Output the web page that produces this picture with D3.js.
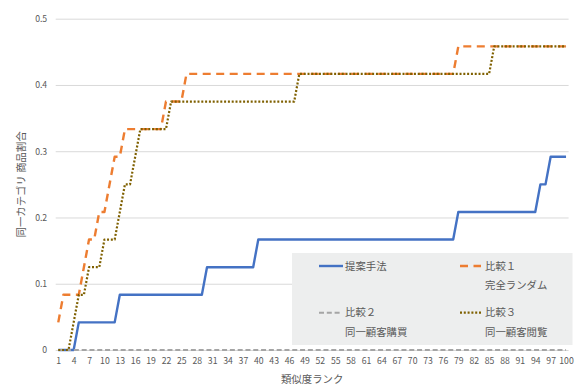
<!DOCTYPE html>
<html>
<head>
<meta charset="utf-8">
<script src="https://cdn.jsdelivr.net/npm/d3@7"></script>
<style>
  html, body { margin: 0; padding: 0; background: #fff; }
  svg { display: block; }
  text { font-family: "Noto Sans CJK JP", "Noto Sans", sans-serif; fill: #595959; }
</style>
</head>
<body>
<svg id="chart" width="579" height="385"></svg>
<script>
// Similarity rank categories (x axis)
const ranks = [
  1,2,3,4,5,6,7,8,9,10,11,12,13,14,15,16,17,18,19,20,
  21,22,23,24,25,26,27,28,29,30,31,32,33,34,35,36,37,38,39,40,
  41,42,43,44,45,46,47,48,49,50,51,52,53,54,55,56,57,58,59,60,
  61,62,63,64,65,66,67,68,69,70,71,72,73,74,75,76,77,78,79,80,
  81,82,83,84,85,86,87,88,89,90,91,92,93,94,95,96,97,98,99,100
];

// Labelled ranks on the x axis
const xTickLabels = [1,4,7,10,13,16,19,22,25,28,31,34,37,40,43,46,49,52,55,58,61,64,67,70,73,76,79,82,85,88,91,94,97,100];

// y axis ticks
const yTickLabels = [0, 0.1, 0.2, 0.3, 0.4, 0.5];

// 提案手法
const proposed = [
  0,0,0,0,0.0417,0.0417,0.0417,0.0417,0.0417,0.0417,
  0.0417,0.0417,0.0833,0.0833,0.0833,0.0833,0.0833,0.0833,0.0833,0.0833,
  0.0833,0.0833,0.0833,0.0833,0.0833,0.0833,0.0833,0.0833,0.0833,0.125,
  0.125,0.125,0.125,0.125,0.125,0.125,0.125,0.125,0.125,0.1667,
  0.1667,0.1667,0.1667,0.1667,0.1667,0.1667,0.1667,0.1667,0.1667,0.1667,
  0.1667,0.1667,0.1667,0.1667,0.1667,0.1667,0.1667,0.1667,0.1667,0.1667,
  0.1667,0.1667,0.1667,0.1667,0.1667,0.1667,0.1667,0.1667,0.1667,0.1667,
  0.1667,0.1667,0.1667,0.1667,0.1667,0.1667,0.1667,0.1667,0.2083,0.2083,
  0.2083,0.2083,0.2083,0.2083,0.2083,0.2083,0.2083,0.2083,0.2083,0.2083,
  0.2083,0.2083,0.2083,0.2083,0.25,0.25,0.2917,0.2917,0.2917,0.2917
];

// 比較１ 完全ランダム
const randomBaseline = [
  0.0417,0.0833,0.0833,0.0833,0.0833,0.125,0.1667,0.1667,0.2083,0.2083,
  0.25,0.2917,0.2917,0.3333,0.3333,0.3333,0.3333,0.3333,0.3333,0.3333,
  0.3333,0.375,0.375,0.375,0.375,0.4167,0.4167,0.4167,0.4167,0.4167,
  0.4167,0.4167,0.4167,0.4167,0.4167,0.4167,0.4167,0.4167,0.4167,0.4167,
  0.4167,0.4167,0.4167,0.4167,0.4167,0.4167,0.4167,0.4167,0.4167,0.4167,
  0.4167,0.4167,0.4167,0.4167,0.4167,0.4167,0.4167,0.4167,0.4167,0.4167,
  0.4167,0.4167,0.4167,0.4167,0.4167,0.4167,0.4167,0.4167,0.4167,0.4167,
  0.4167,0.4167,0.4167,0.4167,0.4167,0.4167,0.4167,0.4167,0.4583,0.4583,
  0.4583,0.4583,0.4583,0.4583,0.4583,0.4583,0.4583,0.4583,0.4583,0.4583,
  0.4583,0.4583,0.4583,0.4583,0.4583,0.4583,0.4583,0.4583,0.4583,0.4583
];

// 比較２ 同一顧客購買
const samePurchase = [
  0,0,0,0,0,0,0,0,0,0, 0,0,0,0,0,0,0,0,0,0,
  0,0,0,0,0,0,0,0,0,0, 0,0,0,0,0,0,0,0,0,0,
  0,0,0,0,0,0,0,0,0,0, 0,0,0,0,0,0,0,0,0,0,
  0,0,0,0,0,0,0,0,0,0, 0,0,0,0,0,0,0,0,0,0,
  0,0,0,0,0,0,0,0,0,0, 0,0,0,0,0,0,0,0,0,0
];

// 比較３ 同一顧客閲覧
const sameBrowse = [
  0,0,0,0.0417,0.0833,0.0833,0.125,0.125,0.125,0.1667,
  0.1667,0.1667,0.2083,0.25,0.25,0.2917,0.3333,0.3333,0.3333,0.3333,
  0.3333,0.3333,0.375,0.375,0.375,0.375,0.375,0.375,0.375,0.375,
  0.375,0.375,0.375,0.375,0.375,0.375,0.375,0.375,0.375,0.375,
  0.375,0.375,0.375,0.375,0.375,0.375,0.375,0.4167,0.4167,0.4167,
  0.4167,0.4167,0.4167,0.4167,0.4167,0.4167,0.4167,0.4167,0.4167,0.4167,
  0.4167,0.4167,0.4167,0.4167,0.4167,0.4167,0.4167,0.4167,0.4167,0.4167,
  0.4167,0.4167,0.4167,0.4167,0.4167,0.4167,0.4167,0.4167,0.4167,0.4167,
  0.4167,0.4167,0.4167,0.4167,0.4167,0.4583,0.4583,0.4583,0.4583,0.4583,
  0.4583,0.4583,0.4583,0.4583,0.4583,0.4583,0.4583,0.4583,0.4583,0.4583
];

const seriesNames = ["提案手法", "比較１", "比較２", "比較３"];
const seriesSubNames = ["", "完全ランダム", "同一顧客購買", "同一顧客閲覧"];

const series = [
  { name: seriesNames[0], sub: seriesSubNames[0], values: proposed,       color: "#4472C4", width: 2.4, dash: null },
  { name: seriesNames[1], sub: seriesSubNames[1], values: randomBaseline, color: "#ED7D31", width: 2.4, dash: "8,5.5" },
  { name: seriesNames[2], sub: seriesSubNames[2], values: samePurchase,   color: "#A5A5A5", width: 2,   dash: "5,2.8" },
  { name: seriesNames[3], sub: seriesSubNames[3], values: sameBrowse,     color: "#7F6000", width: 2.2, dash: "2,1.8" }
];

const svg = d3.select("#chart");

const plot = { left: 55.7, right: 568.6, top: 18.7, bottom: 350 };

const x = d3.scalePoint()
  .domain(ranks)
  .range([plot.left, plot.right])
  .padding(0.5);

const y = d3.scaleLinear()
  .domain([0, 0.5])
  .range([plot.bottom, plot.top]);

// Horizontal gridlines
const grid = svg.append("g")
  .attr("transform", `translate(${plot.left},0)`)
  .call(d3.axisLeft(y).tickValues(yTickLabels).tickSize(-(plot.right - plot.left)).tickFormat(""));
grid.select(".domain").remove();
grid.selectAll(".tick line").attr("stroke", "#D9D9D9").attr("stroke-width", 1);

// y tick labels
const yAxis = svg.append("g")
  .attr("transform", `translate(${plot.left - 8.5},0)`)
  .call(d3.axisLeft(y).tickValues(yTickLabels).tickSize(0).tickPadding(0)
    .tickFormat(d => d === 0 ? "0" : d3.format(".1f")(d)));
yAxis.select(".domain").remove();
yAxis.selectAll("text")
  .style("font-size", "8.7px")
  .attr("fill", "#595959");

// x tick labels
const xAxis = svg.append("g")
  .attr("transform", `translate(0,${plot.bottom})`)
  .call(d3.axisBottom(x).tickValues(xTickLabels).tickSize(0).tickPadding(8));
xAxis.select(".domain").remove();
xAxis.selectAll("text")
  .style("font-size", "8.7px")
  .attr("fill", "#595959");

// Series lines
const line = d3.line()
  .x((d, i) => x(ranks[i]))
  .y(d => y(d));

series.forEach(s => {
  svg.append("path")
    .datum(s.values)
    .attr("fill", "none")
    .attr("stroke", s.color)
    .attr("stroke-width", s.width)
    .attr("stroke-dasharray", s.dash)
    .attr("stroke-linejoin", "round")
    .attr("d", line);
});

// Axis titles
svg.append("text")
  .attr("x", (plot.left + plot.right) / 2)
  .attr("y", 383)
  .attr("text-anchor", "middle")
  .style("font-size", "10.4px")
  .text("類似度ランク");

svg.append("text")
  .attr("transform", `translate(25.2,${(plot.top + plot.bottom) / 2}) rotate(-90)`)
  .attr("text-anchor", "middle")
  .style("font-size", "10.4px")
  .text("同一カテゴリ 商品割合");

// Legend
const legend = svg.append("g");
legend.append("rect")
  .attr("x", 292).attr("y", 253)
  .attr("width", 280.5).attr("height", 92)
  .attr("fill", "#EDEEEE");

const legendPos = [
  { sx: 319, ex: 343, tx: 345, ty: 266 },
  { sx: 460, ex: 481, tx: 485, ty: 266 },
  { sx: 319, ex: 342, tx: 345, ty: 312.7 },
  { sx: 460, ex: 481, tx: 485, ty: 312.7 }
];

series.forEach((s, i) => {
  const p = legendPos[i];
  legend.append("line")
    .attr("x1", p.sx).attr("x2", p.ex)
    .attr("y1", p.ty).attr("y2", p.ty)
    .attr("stroke", s.color)
    .attr("stroke-width", s.width)
    .attr("stroke-dasharray", s.dash);
  legend.append("text")
    .attr("x", p.tx).attr("y", p.ty)
    .attr("dy", "0.36em")
    .style("font-size", "10.4px")
    .text(s.name);
  if (s.sub) {
    legend.append("text")
      .attr("x", p.tx).attr("y", p.ty + 19.5)
      .attr("dy", "0.36em")
      .style("font-size", "10.4px")
      .text(s.sub);
  }
});
</script>
</body>
</html>
